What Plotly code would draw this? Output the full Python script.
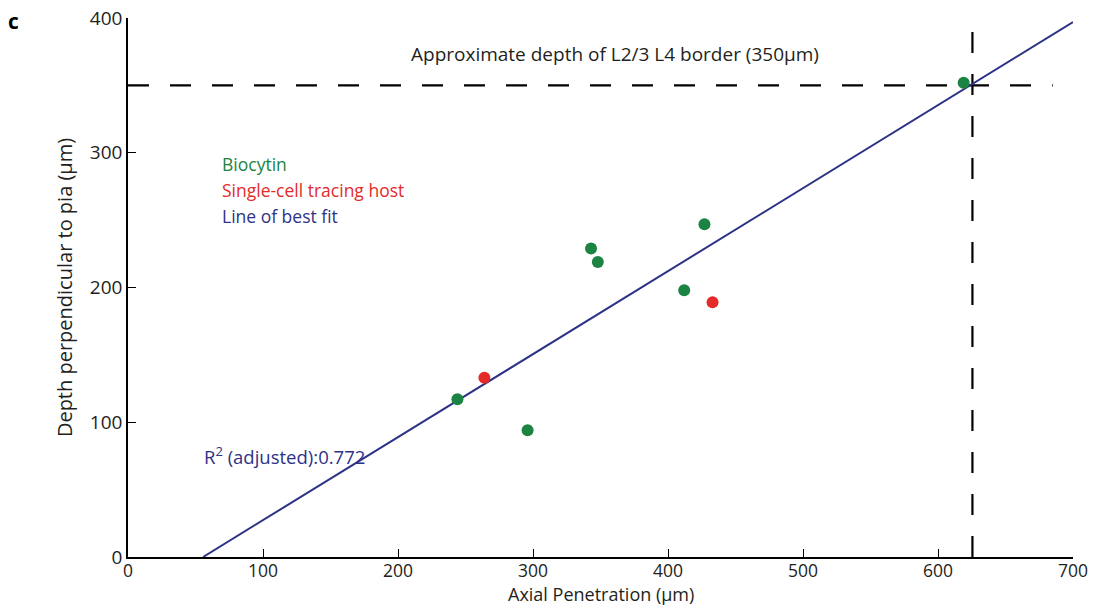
import plotly.graph_objects as go

# Data
biocytin_x = [244, 296, 343, 348, 412, 427, 619]
biocytin_y = [117, 94, 229, 219, 198, 247, 352]
tracing_x = [264, 433]
tracing_y = [133, 189]

fit_slope = 0.616
fit_x0 = 55.6          # x-intercept of the fit line
fit_x_range = [55.6, 700]
border_depth = 350
border_x = 625.5

x_ticks = [0, 100, 200, 300, 400, 500, 600, 700]
y_ticks = [0, 100, 200, 300, 400]

GREEN = "#1b8442"
RED = "#e52a2a"
BLUE = "#2d3286"
TXT = "#231f20"
FONT = "Open Sans"

fig = go.Figure()

fit_y = [fit_slope * (x - fit_x0) for x in fit_x_range]
fig.add_trace(go.Scatter(x=fit_x_range, y=fit_y, mode="lines",
                         line=dict(color=BLUE, width=2), showlegend=False,
                         hoverinfo="skip"))

fig.add_trace(go.Scatter(x=biocytin_x, y=biocytin_y, mode="markers",
                         marker=dict(color=GREEN, size=12), showlegend=False))
fig.add_trace(go.Scatter(x=tracing_x, y=tracing_y, mode="markers",
                         marker=dict(color=RED, size=12), showlegend=False))

# dashed reference lines
fig.add_shape(type="line", xref="x", yref="y", x0=0, x1=685,
              y0=border_depth, y1=border_depth,
              line=dict(color="black", width=2.2, dash="21px,21px"), layer="below")
fig.add_shape(type="line", xref="x", yref="y", x0=border_x, x1=border_x,
              y0=0, y1=398,
              line=dict(color="black", width=2.2, dash="21px,21px"), layer="below")

annos = [
    dict(x=361, y=373, text="Approximate depth of L2/3 L4 border (350µm)",
         color=TXT, size=19, xanchor="center"),
    dict(x=68, y=292, text="Biocytin", color=GREEN, size=17.5, xanchor="left"),
    dict(x=68, y=272.5, text="Single-cell tracing host", color=RED, size=17.5, xanchor="left"),
    dict(x=68, y=253, text="Line of best fit", color=BLUE, size=17.5, xanchor="left"),
    dict(x=55, y=75.5, text="R<sup>2</sup> (adjusted):0.772", color=BLUE, size=18.5, xanchor="left"),
]
for a in annos:
    fig.add_annotation(x=a["x"], y=a["y"], xref="x", yref="y", text=a["text"],
                       showarrow=False, xanchor=a["xanchor"], yanchor="middle",
                       font=dict(family=FONT, size=a["size"], color=a["color"]))

fig.add_annotation(x=-0.121, y=0.994, xref="paper", yref="paper", text="<b>c</b>",
                   showarrow=False, xanchor="center", yanchor="middle",
                   font=dict(family=FONT, size=21, color="black"))

# x-axis title
fig.add_annotation(x=0.5, y=-0.0685, xref="paper", yref="paper",
                   text="Axial Penetration (µm)", showarrow=False,
                   xanchor="center", yanchor="middle",
                   font=dict(family=FONT, size=18, color=TXT))

fig.update_layout(
    width=1098, height=607,
    margin=dict(l=128, r=25, t=18, b=50),
    plot_bgcolor="white", paper_bgcolor="white",
    font=dict(family=FONT, size=19, color=TXT),
    xaxis=dict(range=[0, 700], tickvals=x_ticks, ticks="inside", ticklen=8,
               tickwidth=1.2, tickcolor="black", showline=True, linecolor="black",
               linewidth=1.5, showgrid=False, zeroline=False, automargin=False,
               tickfont=dict(size=17.5), ticklabelstandoff=-3),
    yaxis=dict(range=[0, 400], tickvals=y_ticks, ticks="inside", ticklen=8,
               tickwidth=1.2, tickcolor="black", showline=True, linecolor="black",
               linewidth=1.5, showgrid=False, zeroline=False, automargin=False,
               tickfont=dict(size=19),
               title=dict(text="Depth perpendicular to pia (µm)", standoff=12,
                          font=dict(size=20))),
)

fig.write_html("out.html")
